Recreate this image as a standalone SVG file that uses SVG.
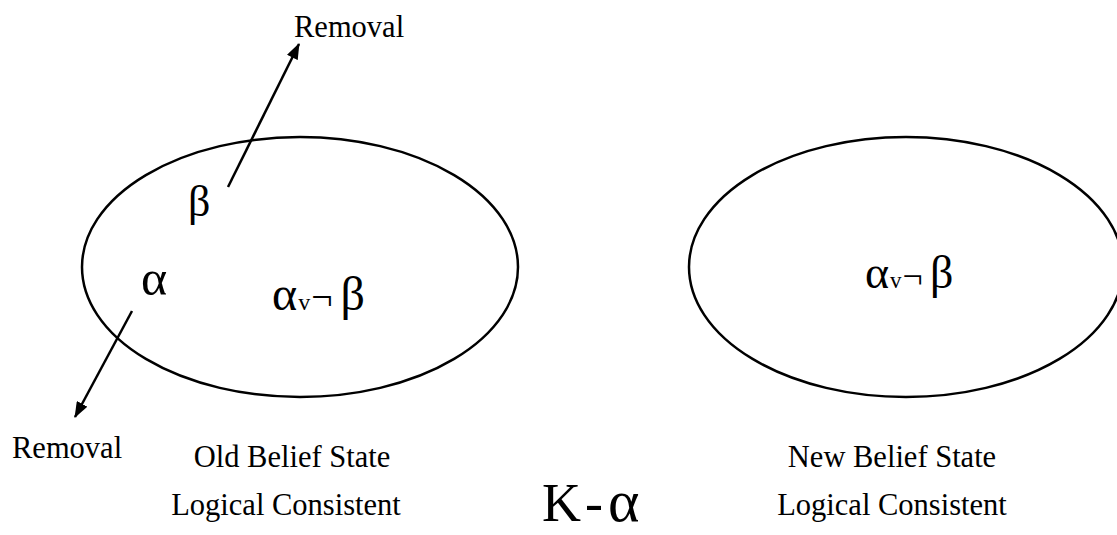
<svg xmlns="http://www.w3.org/2000/svg" width="1117" height="535" viewBox="0 0 1117 535">
<style>
.st{fill:none;stroke:#000;stroke-width:2.5}
.t{font-family:"Liberation Serif","Times New Roman",serif;fill:#000}
.lbl{font-size:30.5px}
.ln{stroke:#000;stroke-width:2.5;fill:none}
</style>
<defs>
<marker id="ah" markerWidth="16" markerHeight="12" refX="15" refY="6" orient="auto" markerUnits="userSpaceOnUse">
<path d="M0,0 L16,6 L0,12 Z" fill="#000"/>
</marker>
</defs>
<rect width="1117" height="535" fill="#fff"/>
<g id="old-state">
<ellipse class="st" cx="300" cy="267" rx="218" ry="130"/>
<text class="t" x="188" y="216" font-size="44px">β</text>
<text class="t" x="141" y="295" font-size="50px">α</text>
<text class="t" x="272" y="310" font-size="48px">α<tspan font-size="24px" dx="1">v</tspan><tspan font-size="38px" dx="1">¬</tspan><tspan font-size="48px" dx="8">β</tspan></text>
</g>
<g id="new-state">
<ellipse class="st" cx="906" cy="267" rx="217" ry="130"/>
<text class="t" x="865" y="288" font-size="46px">α<tspan font-size="23px" dx="1">v</tspan><tspan font-size="36px" dx="1">¬</tspan><tspan font-size="46px" dx="7">β</tspan></text>
</g>
<g id="connectors">
<line class="ln" x1="228" y1="187" x2="299" y2="44" marker-end="url(#ah)"/>
<line class="ln" x1="132" y1="311" x2="75" y2="417" marker-end="url(#ah)"/>
</g>
<g id="labels">
<text class="t lbl" x="294" y="37">Removal</text>
<text class="t lbl" x="12" y="458">Removal</text>
<text class="t lbl" x="292" y="467" text-anchor="middle">Old Belief State</text>
<text class="t lbl" x="286" y="515" text-anchor="middle">Logical Consistent</text>
<text class="t" x="542" y="521" font-size="54px">K<tspan dx="4">-</tspan><tspan dx="5" font-size="60px">α</tspan></text>
<text class="t lbl" x="892" y="467" text-anchor="middle">New Belief State</text>
<text class="t lbl" x="892" y="515" text-anchor="middle">Logical Consistent</text>
</g>
</svg>
